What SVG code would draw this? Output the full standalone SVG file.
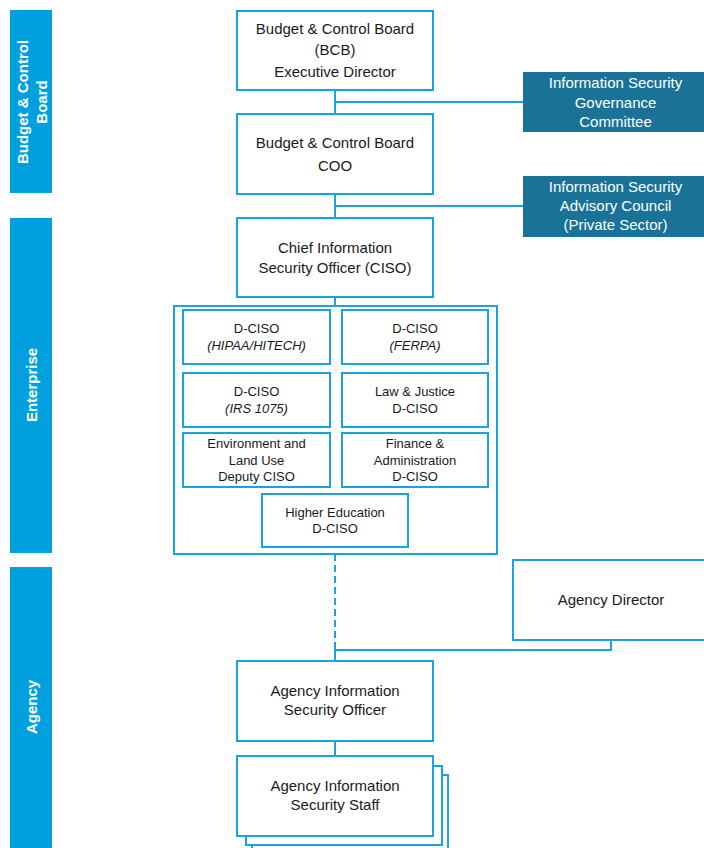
<svg xmlns="http://www.w3.org/2000/svg" width="704" height="848" viewBox="0 0 704 848">
<style>
.band{fill:#00A0DF}
.bt{font-family:"Liberation Sans",Arial,sans-serif;font-size:15px;font-weight:bold;fill:#fff;text-anchor:middle}
.box{fill:#fff;stroke:#1BA3DE;stroke-width:2}
.dark{fill:#1A7297}
.t{font-family:"Liberation Sans",Arial,sans-serif;font-size:15px;fill:#1a1a1a;text-anchor:middle}
.tw{font-family:"Liberation Sans",Arial,sans-serif;font-size:15px;fill:#fff;text-anchor:middle}
.ts{font-family:"Liberation Sans",Arial,sans-serif;font-size:13px;fill:#1a1a1a;text-anchor:middle}
.i{font-style:italic}
.ln{fill:none;stroke:#1BA3DE;stroke-width:2}
</style>
<g id="bands">
<rect class="band" x="10" y="10" width="42" height="183"/>
<text class="bt" transform="translate(27.5,102) rotate(-90)">Budget &amp; Control</text>
<text class="bt" transform="translate(46.5,102) rotate(-90)">Board</text>
<rect class="band" x="10" y="218" width="42" height="335"/>
<text class="bt" transform="translate(37,385) rotate(-90)">Enterprise</text>
<rect class="band" x="10" y="567" width="42" height="281"/>
<text class="bt" transform="translate(37,707) rotate(-90)">Agency</text>
</g>
<g id="connectors">
<line class="ln" x1="335" y1="90" x2="335" y2="114"/>
<line class="ln" x1="335" y1="102" x2="523" y2="102"/>
<line class="ln" x1="335" y1="194" x2="335" y2="218"/>
<line class="ln" x1="335" y1="206" x2="523" y2="206"/>
<line class="ln" x1="335" y1="297" x2="335" y2="306"/>
<line class="ln" x1="335" y1="554" x2="335" y2="650" stroke-dasharray="7,4"/>
<polyline class="ln" points="611,640 611,650 335,650 335,661"/>
<line class="ln" x1="335" y1="741" x2="335" y2="756"/>
</g>
<g id="bcb-ed">
<rect class="box" x="237" y="11" width="196" height="79"/>
<text class="t" x="335" y="33.5">Budget &amp; Control Board</text>
<text class="t" x="335" y="55">(BCB)</text>
<text class="t" x="335" y="77">Executive Director</text>
</g>
<g id="gov-committee">
<rect class="dark" x="523" y="72" width="185" height="60"/>
<text class="tw" x="615.5" y="88">Information Security</text>
<text class="tw" x="615.5" y="107.5">Governance</text>
<text class="tw" x="615.5" y="127">Committee</text>
</g>
<g id="bcb-coo">
<rect class="box" x="237" y="114" width="196" height="80"/>
<text class="t" x="335" y="147.5">Budget &amp; Control Board</text>
<text class="t" x="335" y="170.5">COO</text>
</g>
<g id="advisory-council">
<rect class="dark" x="523" y="176" width="185" height="61"/>
<text class="tw" x="615.5" y="191.5">Information Security</text>
<text class="tw" x="615.5" y="210.5">Advisory Council</text>
<text class="tw" x="615.5" y="229.5">(Private Sector)</text>
</g>
<g id="ciso">
<rect class="box" x="237" y="218" width="196" height="79"/>
<text class="t" x="335" y="253">Chief Information</text>
<text class="t" x="335" y="273">Security Officer (CISO)</text>
</g>
<g id="dciso-group">
<rect class="box" x="174" y="306" width="323" height="248"/>
</g>
<g id="dciso-hipaa">
<rect class="box" x="183" y="310" width="147" height="54"/>
<text class="ts" x="256.5" y="332.5">D-CISO</text>
<text class="ts i" x="256.5" y="350">(HIPAA/HITECH)</text>
</g>
<g id="dciso-ferpa">
<rect class="box" x="342" y="310" width="146" height="54"/>
<text class="ts" x="415" y="332.5">D-CISO</text>
<text class="ts i" x="415" y="350">(FERPA)</text>
</g>
<g id="dciso-irs">
<rect class="box" x="183" y="373" width="147" height="54"/>
<text class="ts" x="256.5" y="395.5">D-CISO</text>
<text class="ts i" x="256.5" y="413">(IRS 1075)</text>
</g>
<g id="dciso-law">
<rect class="box" x="342" y="373" width="146" height="54"/>
<text class="ts" x="415" y="395.5">Law &amp; Justice</text>
<text class="ts" x="415" y="413">D-CISO</text>
</g>
<g id="dciso-env">
<rect class="box" x="183" y="433" width="147" height="54"/>
<text class="ts" x="256.5" y="447.5">Environment and</text>
<text class="ts" x="256.5" y="464.5">Land Use</text>
<text class="ts" x="256.5" y="481">Deputy CISO</text>
</g>
<g id="dciso-finance">
<rect class="box" x="342" y="433" width="146" height="54"/>
<text class="ts" x="415" y="447.5">Finance &amp;</text>
<text class="ts" x="415" y="464.5">Administration</text>
<text class="ts" x="415" y="481">D-CISO</text>
</g>
<g id="dciso-higher-ed">
<rect class="box" x="262" y="494" width="146" height="53"/>
<text class="ts" x="335" y="516.5">Higher Education</text>
<text class="ts" x="335" y="533">D-CISO</text>
</g>
<g id="agency-director">
<rect class="box" x="513" y="560" width="196" height="80"/>
<text class="t" x="611" y="605">Agency Director</text>
</g>
<g id="aiso">
<rect class="box" x="237" y="661" width="196" height="80"/>
<text class="t" x="335" y="696">Agency Information</text>
<text class="t" x="335" y="715">Security Officer</text>
</g>
<g id="ais-staff">
<rect class="box" x="252" y="775" width="196" height="84"/>
<rect class="box" x="246" y="766" width="196" height="79"/>
<rect class="box" x="237" y="756" width="196" height="80"/>
<text class="t" x="335" y="791">Agency Information</text>
<text class="t" x="335" y="810">Security Staff</text>
</g>
</svg>
